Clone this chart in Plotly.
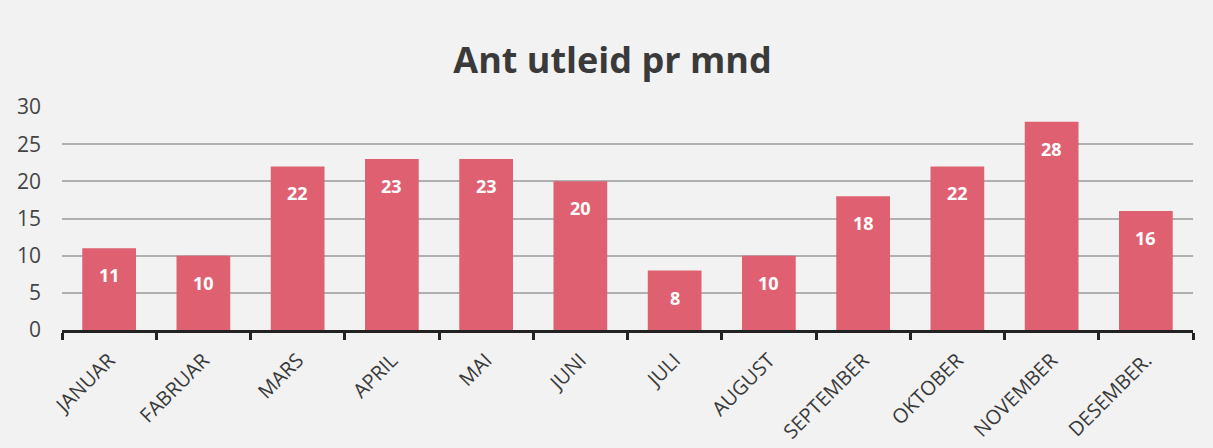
import plotly.graph_objects as go

months = ["JANUAR", "FABRUAR", "MARS", "APRIL", "MAI", "JUNI", "JULI",
          "AUGUST", "SEPTEMBER", "OKTOBER", "NOVEMBER", "DESEMBER."]
values = [11, 10, 22, 23, 23, 20, 8, 10, 18, 22, 28, 16]
y_ticks = [0, 5, 10, 15, 20, 25, 30]

fig = go.Figure(go.Bar(
    x=months, y=values,
    marker=dict(color="#df6171", line=dict(width=0)),
    hoverinfo="x+y",
))

for m, v in zip(months, values):
    fig.add_annotation(
        x=m, y=v, xref="x", yref="y", text=f"<b>{v}</b>", showarrow=False,
        yanchor="middle", yshift=-27,
        font=dict(family="Open Sans", size=18, color="white"),
    )

fig.update_layout(
    width=1213, height=448,
    margin=dict(l=62, r=20, t=107, b=118),
    paper_bgcolor="#f2f2f2", plot_bgcolor="#f2f2f2",
    bargap=0.43,
    showlegend=False,
    title=dict(text="<b>Ant utleid pr mnd</b>", x=0.505, xanchor="center",
               y=0.866, yanchor="middle",
               font=dict(family="Open Sans", size=36, color="#3a3a3a")),
    font=dict(family="Open Sans", color="#444444"),
)
fig.update_xaxes(
    type="category", showline=True, linecolor="#222222", linewidth=2.5,
    ticks="outside", tickson="boundaries", ticklen=7, tickwidth=2.5, tickcolor="#222222",
    tickangle=-45, tickfont=dict(size=20, color="#3a3a3a"), showgrid=False,
    ticklabelstandoff=8, automargin=False,
)
fig.update_yaxes(
    range=[0, 30], tickvals=y_ticks, showgrid=True, gridcolor="#b0b0b0", gridwidth=1.5,
    zeroline=False, showline=False, ticks="", ticklabelstandoff=20,
    tickfont=dict(size=21, color="#444444"), automargin=False,
)

fig.write_html("out.html", config={"displayModeBar": False},
               post_script="document.body.style.margin='0';")
